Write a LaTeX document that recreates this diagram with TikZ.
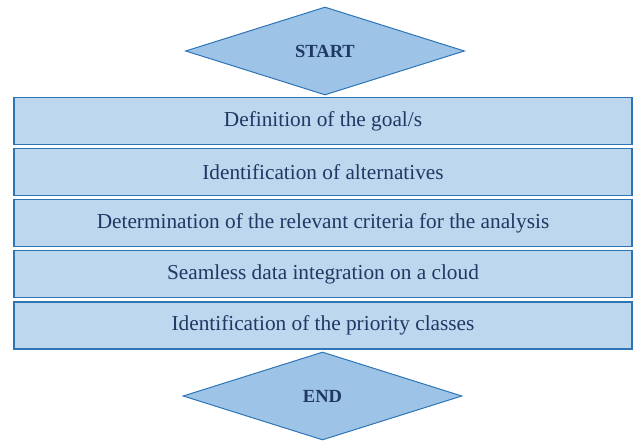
\documentclass[tikz,border=0pt]{standalone}
\usepackage{fontspec}
\setmainfont{Liberation Serif}
\usetikzlibrary{shapes.geometric}
\definecolor{stepfill}{RGB}{189,215,238}
\definecolor{stepline}{RGB}{46,117,182}
\definecolor{termfill}{RGB}{157,195,230}
\definecolor{textblue}{RGB}{31,56,100}
\tikzset{
	stepbox/.style={draw=stepline, fill=stepfill, line width=1.2pt, minimum width=618pt, minimum height=47pt, inner sep=0pt, text=textblue, font=\fontsize{21.3}{23}\selectfont},
	terminal/.style={diamond, draw=stepline, fill=termfill, line width=1pt, minimum width=279pt, minimum height=88pt, inner sep=0pt, text=textblue, font=\fontsize{18.5}{20}\selectfont\bfseries}
}
\begin{document}
\begin{tikzpicture}[x=1pt,y=1pt]
		\useasboundingbox (0,0) rectangle (635,442);
		
		\node[terminal] (start) at (325,391) {START};
		
		\node[stepbox] (goal) at (323,321) {Definition of the goal/s};
		\node[stepbox] (alt) at (323,270) {Identification of alternatives};
		\node[stepbox] (crit) at (323,219) {Determination of the relevant criteria for the analysis};
		\node[stepbox] (cloud) at (323,168) {Seamless data integration on a cloud};
		\node[stepbox] (prio) at (323,116.5) {Identification of the priority classes};
		
		\node[terminal] (end) at (322.5,46) {END};
\end{tikzpicture}
\end{document}
